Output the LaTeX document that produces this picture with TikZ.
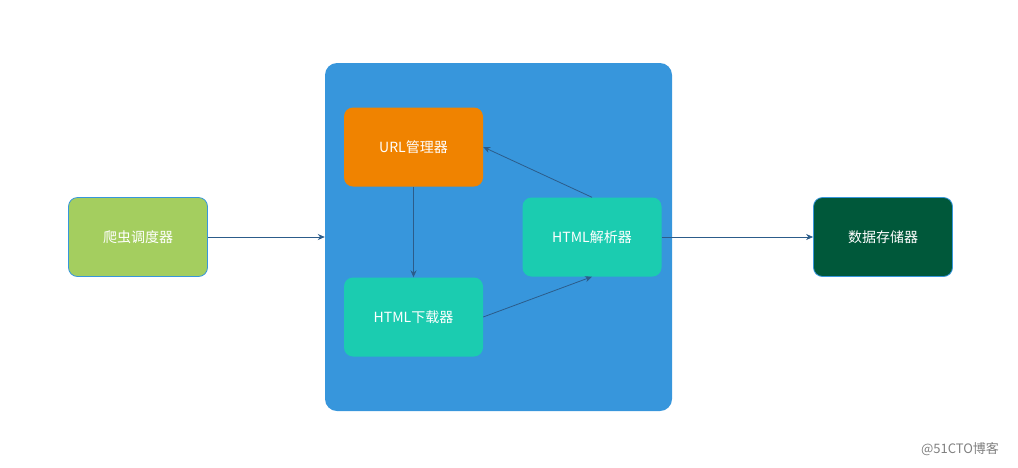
\documentclass[tikz,border=0pt]{standalone}
\usepackage{fontspec}
\setmainfont{Noto Sans CJK SC}
\usetikzlibrary{arrows.meta}
\definecolor{panelblue}{RGB}{55,150,220}
\definecolor{urlorange}{RGB}{240,131,0}
\definecolor{htmlteal}{RGB}{27,204,176}
\definecolor{schedgreen}{RGB}{164,206,95}
\definecolor{storegreen}{RGB}{0,88,58}
\definecolor{linkblue}{RGB}{44,92,138}
\tikzset{
  box/.style={rectangle, rounded corners=9pt, minimum width=139pt, minimum height=79pt, text=white, font=\fontsize{14}{16}\selectfont},
  link/.style={-{Stealth[length=7pt,width=6pt]}, draw=linkblue, line width=0.8pt}
}
\begin{document}
\begin{tikzpicture}[x=1pt, y=-1pt]
        \useasboundingbox (0,0) rectangle (1018,467);
        \node (outer) [rectangle, rounded corners=12pt, fill=panelblue, minimum width=347pt, minimum height=348pt] at (498.5,237) {};
        \node (url) [box, fill=urlorange] at (413.5,147) {URL管理器};
        \node (down) [box, fill=htmlteal] at (413.5,317) {HTML下载器};
        \node (parse) [box, fill=htmlteal] at (592,237) {HTML解析器};
        \node (sched) [box, fill=schedgreen, draw=panelblue, line width=0.8pt] at (138,237) {爬虫调度器};
        \node (store) [box, fill=storegreen, draw=panelblue, line width=0.8pt] at (883,237) {数据存储器};
        \node (mark) [text=gray, font=\fontsize{13}{15}\selectfont] at (960,449) {@51CTO博客};

        \draw[link] (sched) -- (outer.west);
        \draw[link] (parse) -- (store);
        \draw[link] (url) -- (down);
        \draw[link] (down.east) -- (parse.south);
        \draw[link] (parse.north) -- (url.east);
    \end{tikzpicture}
\end{document}
